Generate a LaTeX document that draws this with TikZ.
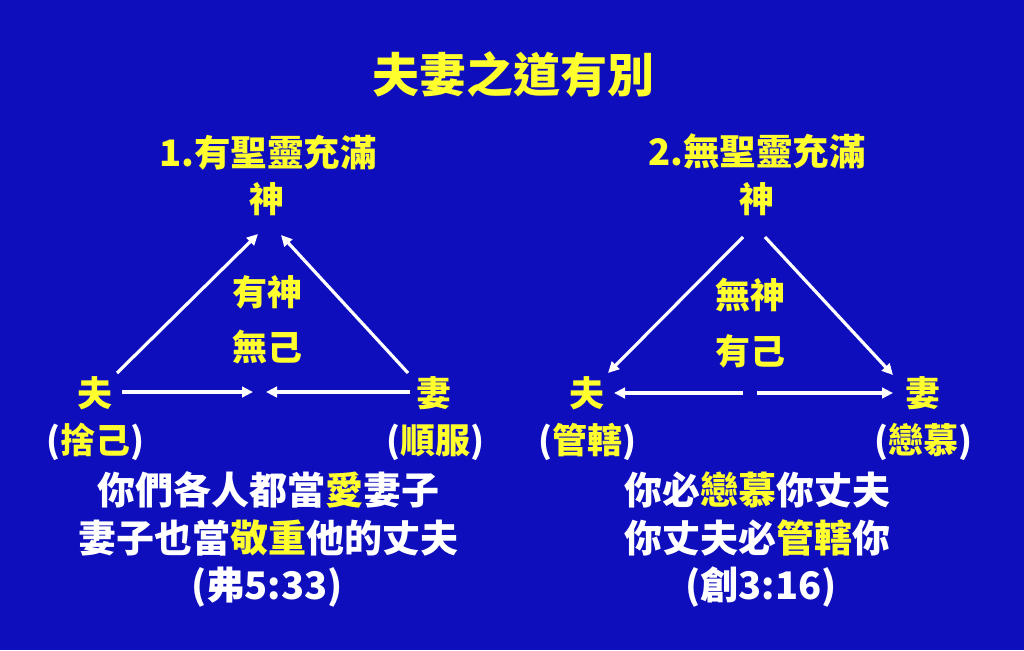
\documentclass[tikz,border=0pt]{standalone}
\usepackage{fontspec}
\setmainfont{Noto Sans CJK TC}
\usetikzlibrary{arrows.meta}
\definecolor{bg}{RGB}{14,14,188}
\definecolor{yel}{RGB}{255,255,45}
\newcommand{\wpar}[1]{\textcolor{white}{#1}}
\newcommand{\ylw}[1]{\textcolor{yel}{#1}}
\begin{document}
\begin{tikzpicture}[x=1pt,y=-1pt,
  ttl/.style={inner sep=0pt, text=yel, font=\bfseries\fontsize{47pt}{47pt}\selectfont, text height=39pt, text depth=3pt},
  head/.style={inner sep=0pt, text=yel, font=\bfseries\fontsize{36.5pt}{36.5pt}\selectfont, text height=30pt, text depth=2.5pt},
  lab/.style={inner sep=0pt, text=yel, font=\bfseries\fontsize{35pt}{35pt}\selectfont, text height=29pt, text depth=2.5pt},
  body/.style={inner sep=0pt, text=white, font=\bfseries\fontsize{38pt}{38pt}\selectfont, text height=31.5pt, text depth=2.5pt},
  arr/.style={white, line width=3.2pt, -{Triangle[length=11pt,width=10.5pt]}, shorten >=0pt}]
\fill[bg] (0,0) rectangle (1024,650);
\useasboundingbox (0,0) rectangle (1024,650);

% title
\node[ttl] (title) at (513,75) {夫妻之道有別};

% left panel
\node[head] (h1) at (268,153) {1.有聖靈充滿};
\node[lab] (g1) at (267,199) {神};
\node[lab] (m1a) at (267,292) {有神};
\node[lab] (m1b) at (267,347) {無己};
\node[lab] (f1) at (95,393) {夫};
\node[lab] (w1) at (434,393) {妻};
\node[lab] (f1s) at (95,440) {\wpar{(}捨己\wpar{)}};
\node[lab] (w1s) at (435,440) {\wpar{(}順服\wpar{)}};

\coordinate (a1s) at (117,373);
\coordinate (a1e) at (258,234);
\coordinate (b1s) at (408,373);
\coordinate (b1e) at (281,235);
\coordinate (c1s) at (122,392);
\coordinate (c1e) at (253,392);
\coordinate (d1s) at (410,392);
\coordinate (d1e) at (266,392);
\draw[arr] (a1s) -- (a1e);
\draw[arr] (b1s) -- (b1e);
\draw[arr] (c1s) -- (c1e);
\draw[arr] (d1s) -- (d1e);

\node[body] (l1) at (268,490) {你們各人都當\ylw{愛}妻子};
\node[body] (l2) at (268,538) {妻子也當\ylw{敬重}他的丈夫};
\node[body] (l3) at (267,585) {(弗5:33)};

% right panel
\node[head] (h2) at (757,152) {2.無聖靈充滿};
\node[lab] (g2) at (757,199) {神};
\node[lab] (m2a) at (750,295) {無神};
\node[lab] (m2b) at (750,351) {有己};
\node[lab] (f2) at (587,393) {夫};
\node[lab] (w2) at (923,393) {妻};
\node[lab] (f2s) at (587,440) {\wpar{(}管轄\wpar{)}};
\node[lab] (w2s) at (923,440) {\wpar{(}戀慕\wpar{)}};

\coordinate (a2s) at (743,237);
\coordinate (a2e) at (608,373);
\coordinate (b2s) at (765,237);
\coordinate (b2e) at (893,375);
\coordinate (c2s) at (743,393);
\coordinate (c2e) at (614,393);
\coordinate (d2s) at (757,393);
\coordinate (d2e) at (893,393);
\draw[arr] (a2s) -- (a2e);
\draw[arr] (b2s) -- (b2e);
\draw[arr] (c2s) -- (c2e);
\draw[arr] (d2s) -- (d2e);

\node[body] (r1) at (757,490) {你必\ylw{戀慕}你丈夫};
\node[body] (r2) at (757,538) {你丈夫必\ylw{管轄}你};
\node[body] (r3) at (761,585) {(創3:16)};
\end{tikzpicture}
\end{document}
